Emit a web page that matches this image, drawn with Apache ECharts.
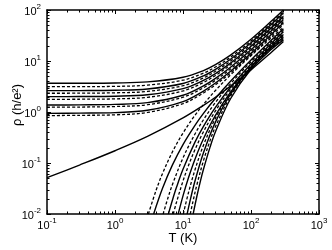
<!DOCTYPE html>
<html><head><meta charset="utf-8">
<script src="https://cdn.jsdelivr.net/npm/echarts@6/dist/echarts.min.js"></script>
<style>html,body{margin:0;padding:0;background:#fff}#c{width:332px;height:250px}</style>
</head><body><div id="c"></div>
<script>
// ---- data ----
const xExp = [-1, 0, 1, 2, 3];
const yExp = [-2, -1, 0, 1, 2];
const minorMult = [2, 3, 4, 5, 6, 7, 8, 9];

const T_upper = [0.1, 0.3, 1, 3, 10, 20, 30, 50, 100, 200, 300];
const upperSolid = [
  [3.65, 3.66, 3.71, 3.89, 4.81, 6.50, 8.48, 13.03, 26.74, 60.6, 100],
  [2.62, 2.63, 2.67, 2.83, 3.63, 5.11, 6.86, 10.83, 22.84, 52.5, 87],
  [2.0, 2.01, 2.04, 2.18, 2.88, 4.16, 5.66, 9.10, 19.48, 45.1, 75],
  [1.37, 1.38, 1.41, 1.53, 2.13, 3.25, 4.56, 7.56, 16.62, 39.0, 65],
  [0.94, 0.95, 0.97, 1.08, 1.60, 2.57, 3.70, 6.29, 14.12, 33.4, 56]
];
const upperDashed = [
  [3.13, 3.14, 3.18, 3.36, 4.21, 5.79, 7.64, 11.88, 24.67, 56.3, 93],
  [2.33, 2.34, 2.38, 2.53, 3.28, 4.66, 6.28, 10.0, 21.2, 48.9, 81],
  [1.77, 1.78, 1.81, 1.94, 2.59, 3.79, 5.20, 8.42, 18.13, 42.1, 70],
  [1.24, 1.25, 1.28, 1.39, 1.95, 2.98, 4.19, 6.96, 15.33, 36.0, 60],
  [0.85, 0.86, 0.88, 0.98, 1.46, 2.36, 3.42, 5.83, 13.11, 31.1, 52]
];
const powerLaw = [0.0515, 0.091, 0.174, 0.332, 0.764, 1.35, 1.95, 3.21, 6.71, 14.85, 24.05];

const lowerT = [
  [3.1, 4, 5, 7, 10, 15, 20, 30, 50, 100, 200, 300],
  [3.7, 5, 7, 10, 15, 20, 30, 50, 100, 200, 300],
  [5.1, 6, 7, 10, 15, 20, 30, 50, 100, 200, 300],
  [6.1, 7, 8, 10, 15, 20, 30, 50, 100, 200, 300],
  [7.2, 8, 10, 12, 15, 20, 30, 50, 100, 200, 300],
  [8.5, 10, 12, 15, 20, 30, 50, 100, 200, 300],
  [10.1, 12, 15, 20, 30, 50, 100, 200, 300],
  [11.5, 13, 15, 20, 30, 50, 100, 200, 300],
  [12.8, 14, 16, 20, 25, 30, 50, 100, 200, 300],
  [14.1, 16, 18, 20, 25, 30, 50, 100, 200, 300]
];
const lowerRho = [
  [0.01, 0.0286, 0.0624, 0.166, 0.387, 0.863, 1.41, 2.64, 5.33, 12.7, 28.7, 45.7],
  [0.01, 0.0319, 0.0918, 0.230, 0.548, 0.940, 1.86, 4.02, 10.5, 25.8, 43.0],
  [0.01, 0.0206, 0.038, 0.126, 0.371, 0.705, 1.54, 3.57, 9.71, 24.1, 40],
  [0.01, 0.0188, 0.033, 0.0752, 0.257, 0.525, 1.236, 3.06, 8.73, 22.3, 37.5],
  [0.01, 0.0168, 0.0443, 0.0879, 0.183, 0.410, 1.05, 2.77, 8.18, 20.9, 35],
  [0.01, 0.0227, 0.0507, 0.119, 0.299, 0.858, 2.45, 7.62, 19.8, 33],
  [0.01, 0.0258, 0.0734, 0.223, 0.756, 2.40, 7.72, 19.3, 31],
  [0.01, 0.0207, 0.0443, 0.159, 0.634, 2.24, 7.52, 18.5, 29],
  [0.01, 0.0175, 0.0374, 0.111, 0.275, 0.516, 2.04, 7.24, 17.8, 27.5],
  [0.01, 0.0223, 0.0437, 0.0752, 0.205, 0.411, 1.82, 6.87, 17.0, 26]
];
const lowerDashed = [true, false, true, false, true, false, true, false, true, false];

// ---- chart ----
const FONT = '"Liberation Sans", Arial, Helvetica, sans-serif';
const series = [];
function addLine(xs, ys, dashed) {
  series.push({
    type: 'line', xAxisIndex: 0, yAxisIndex: 0,
    data: xs.map((x, i) => [x, ys[i]]),
    symbol: 'none', showSymbol: false, smooth: 0.35, silent: true,
    lineStyle: { color: '#000', width: dashed ? 1.3 : 1.4, type: dashed ? [3, 2] : 'solid' },
    z: 3
  });
}
upperSolid.forEach(r => addLine(T_upper, r, false));
upperDashed.forEach(r => addLine(T_upper, r, true));
addLine(T_upper, powerLaw, false);
lowerT.forEach((t, i) => addLine(t, lowerRho[i], lowerDashed[i]));

// minor ticks drawn through the axis scales
series.push({
  type: 'custom', xAxisIndex: 0, yAxisIndex: 0, silent: true, z: 5,
  data: [[1, 1]],
  renderItem: function (params, api) {
    const cs = params.coordSys;
    const children = [];
    const L = 2.5;
    const st = { stroke: '#000', lineWidth: 1 };
    for (let k = xExp[0]; k < xExp[xExp.length - 1]; k++) {
      minorMult.forEach(m => {
        const px = Math.round(api.coord([m * Math.pow(10, k), 1])[0]) + 0.5;
        children.push({ type: 'line', shape: { x1: px, y1: cs.y + cs.height, x2: px, y2: cs.y + cs.height - L }, style: st });
        children.push({ type: 'line', shape: { x1: px, y1: cs.y, x2: px, y2: cs.y + L }, style: st });
      });
    }
    for (let k = yExp[0]; k < yExp[yExp.length - 1]; k++) {
      minorMult.forEach(m => {
        const py = Math.round(api.coord([1, m * Math.pow(10, k)])[1]) + 0.5;
        children.push({ type: 'line', shape: { x1: cs.x, y1: py, x2: cs.x + L, y2: py }, style: st });
        children.push({ type: 'line', shape: { x1: cs.x + cs.width, y1: py, x2: cs.x + cs.width - L, y2: py }, style: st });
      });
    }
    return { type: 'group', children: children };
  }
});

function expFmt(v) {
  const e = Math.round(Math.log10(v));
  return '{b|10}{s|' + e + '}';
}
const rich = {
  b: { fontSize: 11, fontFamily: FONT, color: '#000', verticalAlign: 'bottom' },
  s: { fontSize: 8, fontFamily: FONT, color: '#000', verticalAlign: 'bottom', padding: [0, 0, 6, 0] }
};
const xRange = { min: Math.pow(10, xExp[0]), max: Math.pow(10, xExp[xExp.length - 1]) };
const yRange = { min: Math.pow(10, yExp[0]), max: Math.pow(10, yExp[yExp.length - 1]) };
function axisCommon(extra) {
  return Object.assign({
    type: 'log', logBase: 10,
    axisLine: { show: true, onZero: false, lineStyle: { color: '#000', width: 1.5 } },
    axisTick: { show: true, inside: true, length: 4, lineStyle: { color: '#000', width: 1 } },
    splitLine: { show: false }, minorTick: { show: false }
  }, extra);
}

const option = {
  animation: false,
  backgroundColor: '#fff',
  grid: { left: 47, right: 13, top: 10, bottom: 36 },
  xAxis: [
    axisCommon(Object.assign({ position: 'bottom', axisLabel: { formatter: expFmt, rich: rich, margin: 3 } }, xRange)),
    axisCommon(Object.assign({ position: 'top', axisLabel: { show: false } }, xRange))
  ],
  yAxis: [
    axisCommon(Object.assign({ position: 'left', axisLabel: { formatter: expFmt, rich: rich, margin: 6 } }, yRange)),
    axisCommon(Object.assign({ position: 'right', axisLabel: { show: false } }, yRange))
  ],
  graphic: [
    { type: 'text', x: 183, y: 238, silent: true,
      style: { text: 'T (K)', textAlign: 'center', textVerticalAlign: 'middle', font: '13px ' + FONT, fill: '#000' } },
    { type: 'text', x: 17, y: 105, rotation: Math.PI / 2, silent: true,
      style: { text: 'ρ (h/e²)', textAlign: 'center', textVerticalAlign: 'middle', font: '13px ' + FONT, fill: '#000' } }
  ],
  series: series
};
const chart = echarts.init(document.getElementById('c'));
chart.setOption(option);
</script></body></html>
